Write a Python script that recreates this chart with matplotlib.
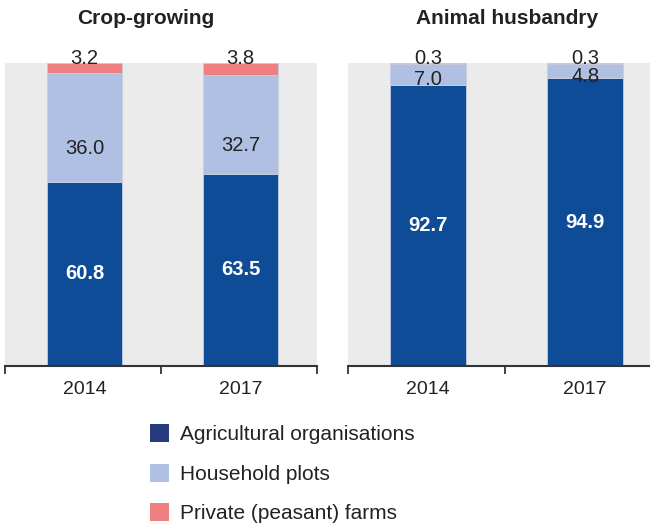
import matplotlib
matplotlib.use('Agg')
import matplotlib.pyplot as plt
from matplotlib.patches import Patch

plt.rcParams['font.family'] = ['Liberation Sans', 'DejaVu Sans']

years = ['2014', '2017']
panels = ['Crop-growing', 'Animal husbandry']
series = ['Agricultural organisations', 'Household plots', 'Private (peasant) farms']

# shares, % (per panel: one value per year)
agri = [[60.8, 63.5], [92.7, 94.9]]
household = [[36.0, 32.7], [7.0, 4.8]]
private = [[3.2, 3.8], [0.3, 0.3]]

c_agri = '#0f4c97'
c_house = '#afc0e2'
c_priv = '#f07f7f'
c_agri_legend = '#273a7d'
bg = '#ebebeb'
txt = '#222222'

W, H = 650, 523
fig = plt.figure(figsize=(W / 100, H / 100), dpi=100)

# axes boxes in pixels: left, right, top, bottom
boxes = [(5, 317, 63, 366), (348, 662, 63, 366)]
title_x = [146, 507]
house_shift = [7, 1.8]

for p in range(2):
    l, r, t, b = boxes[p]
    ax = fig.add_axes([l / W, 1 - b / H, (r - l) / W, (b - t) / H])
    ax.set_facecolor(bg)
    ax.set_xlim(0, 2)
    ax.set_ylim(0, 100)
    x = [0.51, 1.51]
    bottoms2 = [agri[p][i] + household[p][i] for i in range(2)]
    kw = dict(width=0.48, edgecolor='#c5cde0', linewidth=0.6)
    ax.bar(x, agri[p], color=c_agri, **kw)
    ax.bar(x, household[p], bottom=agri[p], color=c_house, **kw)
    ax.bar(x, private[p], bottom=bottoms2, color=c_priv, **kw)

    for i in range(2):
        ax.text(x[i], agri[p][i] / 2, f'{agri[p][i]:.1f}', ha='center', va='center',
                color='white', fontsize=14.5, fontweight='bold')
        yh = agri[p][i] + household[p][i] / 2 - house_shift[p]
        ax.text(x[i], yh, f'{household[p][i]:.1f}', ha='center', va='center',
                color=txt, fontsize=14.5)
        ax.text(x[i], 99.6, f'{private[p][i]:.1f}', ha='center', va='baseline',
                color=txt, fontsize=14.5, clip_on=False)

    for s in ['top', 'right', 'left']:
        ax.spines[s].set_visible(False)
    ax.spines['bottom'].set_color('#333333')
    ax.spines['bottom'].set_linewidth(1.5)
    ax.set_yticks([])
    ax.set_xticks([0, 1, 2])
    ax.set_xticklabels([])
    ax.tick_params(axis='x', which='major', direction='out', length=6, width=1.3, color='#333333')
    ax.set_xticks(x, minor=True)
    ax.set_xticklabels(years, minor=True)
    ax.tick_params(axis='x', which='minor', length=0, pad=10.5, labelsize=14, labelcolor=txt)

    fig.text(title_x[p] / W, 1 - 24 / H, panels[p], ha='center', va='baseline',
             fontsize=15, fontweight='bold', color=txt)

handles = [Patch(facecolor=c) for c in [c_agri_legend, c_house, c_priv]]
fig.legend(handles, series, loc='upper left', bbox_to_anchor=(150 / W, 1 - 424 / H),
           frameon=False, fontsize=15, handlelength=0.92, handleheight=0.96,
           handletextpad=0.5, labelspacing=0.93, borderpad=0, borderaxespad=0,
           labelcolor=txt)

fig.savefig('out.png', dpi=100)
